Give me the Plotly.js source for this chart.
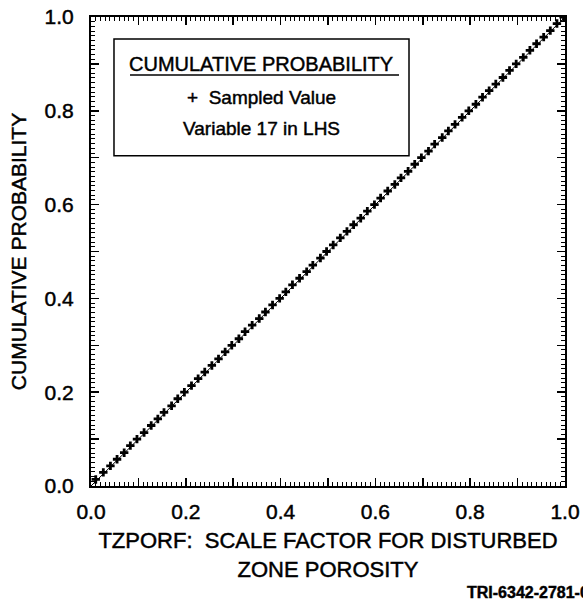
<!DOCTYPE html>
<html>
<head>
<meta charset="utf-8">
<script src="https://cdn.plot.ly/plotly-3.0.1.min.js"></script>
<style>
  html, body { margin: 0; padding: 0; background: #fff; }
  #frame, #chart { position: absolute; left: 0; top: 0; width: 583px; height: 606px; }
  #chart { pointer-events: none; }
  #chart text { stroke: #000; stroke-width: 0.45px; }
</style>
</head>
<body>
<div id="frame"></div>
<div id="chart"></div>
<script>
// Sampled values of variable 17 (TZPORF), sorted, and their cumulative probabilities
const sampledValues = [
  0.010, 0.026, 0.041, 0.055, 0.070, 0.083, 0.097, 0.112, 0.127, 0.141,
  0.154, 0.170, 0.183, 0.197, 0.212, 0.226, 0.240, 0.255, 0.269, 0.283,
  0.297, 0.312, 0.325, 0.340, 0.355, 0.368, 0.383, 0.398, 0.411, 0.425,
  0.440, 0.455, 0.468, 0.484, 0.497, 0.511, 0.526, 0.540, 0.554, 0.569,
  0.583, 0.598, 0.611, 0.626, 0.641, 0.654, 0.669, 0.683, 0.697, 0.712,
  0.725, 0.741, 0.754, 0.768, 0.783, 0.797, 0.812, 0.826, 0.840, 0.854,
  0.869, 0.883, 0.897, 0.912, 0.926, 0.940, 0.955, 0.969, 0.983, 0.997
];
const cumulativeProb = [
  0.014, 0.029, 0.043, 0.057, 0.071, 0.086, 0.100, 0.114, 0.129, 0.143,
  0.157, 0.171, 0.186, 0.200, 0.214, 0.229, 0.243, 0.257, 0.271, 0.286,
  0.300, 0.314, 0.329, 0.343, 0.357, 0.371, 0.386, 0.400, 0.414, 0.429,
  0.443, 0.457, 0.471, 0.486, 0.500, 0.514, 0.529, 0.543, 0.557, 0.571,
  0.586, 0.600, 0.614, 0.629, 0.643, 0.657, 0.671, 0.686, 0.700, 0.714,
  0.729, 0.743, 0.757, 0.771, 0.786, 0.800, 0.814, 0.829, 0.843, 0.857,
  0.871, 0.886, 0.900, 0.914, 0.929, 0.943, 0.957, 0.971, 0.986, 1.000
];
// Theoretical uniform CDF line
const cdfLineX = [0, 1];
const cdfLineY = [0, 1];

// Ticks: major marks every 0.1, minor every 0.01, labels every 0.2
const majorTickStep = 0.1;
const minorTickStep = 0.01;
const labelVals = [0, 0.2, 0.4, 0.6, 0.8, 1.0];
const labelText = ['0.0', '0.2', '0.4', '0.6', '0.8', '1.0'];

// Text
const xTitle = 'TZPORF:  SCALE FACTOR FOR DISTURBED<br>ZONE POROSITY';
const yTitle = 'CUMULATIVE PROBABILITY';
const legendTitle = 'CUMULATIVE PROBABILITY';
const legendLine1 = '+  Sampled Value';
const legendLine2 = 'Variable 17 in LHS';
const figId = 'TRI-6342-2781-0';

const FONT = 'Liberation Sans, Arial, Helvetica, sans-serif';
const W = 583, H = 606;

// ---------- Bottom layer: frame with inside ticks, CDF line and sampled points ----------
const frameAxis = () => ({
  range: [0, 1], autorange: false, tickmode: 'linear', tick0: 0, dtick: majorTickStep,
  ticks: 'inside', ticklen: 8, tickwidth: 1.5, tickcolor: '#000',
  showline: true, linecolor: '#000', linewidth: 2, mirror: 'ticks', showgrid: false, zeroline: false,
  tickfont: { color: 'rgba(0,0,0,0)' },
  minor: { dtick: minorTickStep, ticks: 'inside', ticklen: 4, tickwidth: 1, tickcolor: '#000' }
});

const frameTraces = [
  { x: sampledValues, y: cumulativeProb, mode: 'markers', type: 'scatter',
    marker: { symbol: 'cross', size: 7, color: '#000' } },
  { x: cdfLineX, y: cdfLineY, mode: 'lines', type: 'scatter',
    line: { color: '#000', width: 1 } }
];

Plotly.newPlot('frame', frameTraces, {
  width: W, height: H, margin: { l: 91, r: 18, t: 17, b: 120 }, showlegend: false,
  xaxis: frameAxis(), yaxis: frameAxis()
}, { displayModeBar: false, staticPlot: true }).then(function (gd) {
  // force style/layout computation on the tick marks
  gd.querySelectorAll('path.xtick, path.ytick').forEach(function (p) {
    p.getBBox(); getComputedStyle(p).display; p.getBoundingClientRect();
  });
});

// ---------- Top layer: tick labels, titles, legend box, figure id ----------
function labelAxis(extra) {
  return Object.assign({
    range: [0, 1], autorange: false,
    tickmode: 'array', tickvals: labelVals, ticktext: labelText,
    ticks: 'outside', tickcolor: 'rgba(0,0,0,0)', tickwidth: 1,
    showline: false, showgrid: false, zeroline: false,
    tickfont: { family: FONT, size: 21, color: '#000' }
  }, extra);
}

const mainLayout = {
  width: W, height: H, margin: { l: 91, r: 18, t: 17, b: 120 },
  paper_bgcolor: 'rgba(0,0,0,0)', plot_bgcolor: 'rgba(0,0,0,0)',
  showlegend: false,
  font: { family: FONT, color: '#000' },
  xaxis: labelAxis({
    ticklen: 7,
    title: { text: xTitle, font: { family: FONT, size: 22, color: '#000' }, standoff: 10 }
  }),
  yaxis: labelAxis({
    ticklen: 12,
    title: { text: yTitle, font: { family: FONT, size: 21, color: '#000' }, standoff: 12 }
  }),
  shapes: [
    { type: 'rect', xref: 'paper', yref: 'paper',
      x0: 0.0485, x1: 0.6709, y0: 0.704, y1: 0.9531,
      line: { color: '#000', width: 1.5 }, fillcolor: '#fff' },
    { type: 'line', xref: 'paper', yref: 'paper',
      x0: 0.0823, x1: 0.6498, y0: 0.8763, y1: 0.8763,
      line: { color: '#000', width: 1.5 } }
  ],
  annotations: [
    { xref: 'paper', yref: 'paper', x: 0.3597, y: 0.9003, text: legendTitle,
      showarrow: false, xanchor: 'center', yanchor: 'middle',
      font: { family: FONT, size: 20, color: '#000' } },
    { xref: 'paper', yref: 'paper', x: 0.3597, y: 0.829, text: legendLine1,
      showarrow: false, xanchor: 'center', yanchor: 'middle',
      font: { family: FONT, size: 19, color: '#000' } },
    { xref: 'paper', yref: 'paper', x: 0.3597, y: 0.7633, text: legendLine2,
      showarrow: false, xanchor: 'center', yanchor: 'middle',
      font: { family: FONT, size: 19, color: '#000' } },
    { xref: 'paper', yref: 'paper', x: 0.789, y: -0.228, text: '<b>' + figId + '</b>',
      showarrow: false, xanchor: 'left', yanchor: 'middle',
      font: { family: FONT, size: 16, color: '#000' } }
  ]
};

Plotly.newPlot('chart', [], mainLayout, { displayModeBar: false, staticPlot: true });
</script>
</body>
</html>
